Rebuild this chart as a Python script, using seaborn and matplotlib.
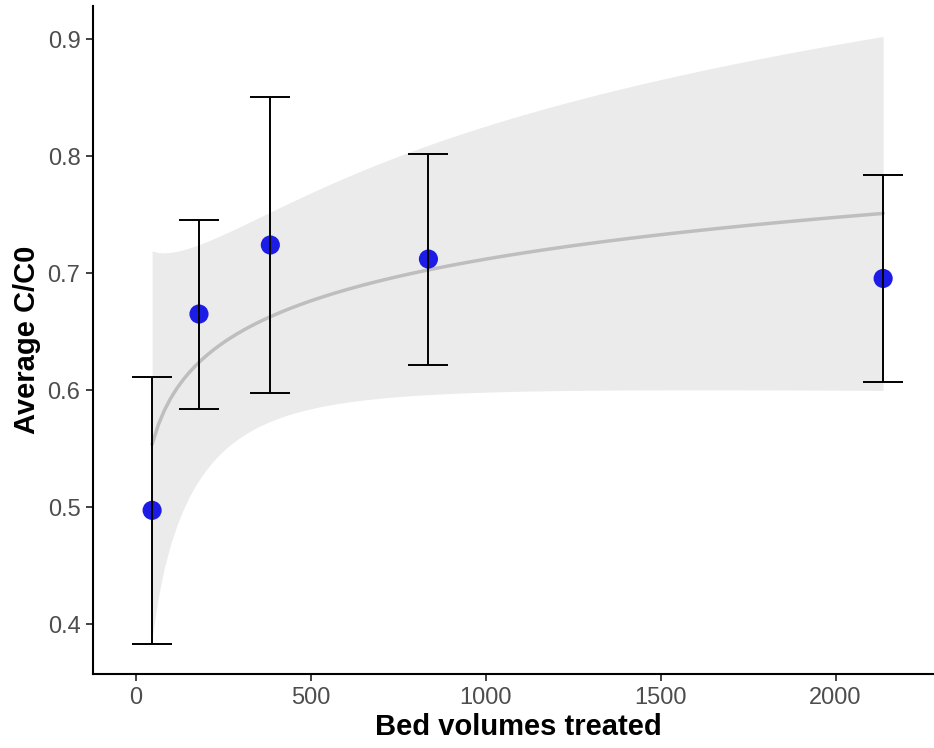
import numpy as np
import pandas as pd
import matplotlib
matplotlib.use("Agg")
import matplotlib.pyplot as plt
import seaborn as sns

# Mean C/C0 per sampling point and its standard deviation
bed_volumes = [46, 180, 384, 836, 2136]
avg_c_c0 = [0.4974, 0.6652, 0.7242, 0.7122, 0.6956]
sd_c_c0 = [0.1142, 0.0808, 0.1262, 0.0902, 0.0886]

x_ticks = [0, 500, 1000, 1500, 2000]
y_ticks = [0.4, 0.5, 0.6, 0.7, 0.8, 0.9]

df = pd.DataFrame({"bv": bed_volumes, "cc0": avg_c_c0, "sd": sd_c_c0})

# Linear model y ~ log(x) with a 95% confidence band
lx = np.log(df["bv"].to_numpy())
y = df["cc0"].to_numpy()
n = len(y)
lx_mean = lx.mean()
sxx = ((lx - lx_mean) ** 2).sum()
slope = ((lx - lx_mean) * (y - y.mean())).sum() / sxx
intercept = y.mean() - slope * lx_mean
resid = y - (intercept + slope * lx)
s = np.sqrt((resid ** 2).sum() / (n - 2))
T_975_DF3 = 3.182446  # Student t quantile, 3 degrees of freedom

grid = np.linspace(df["bv"].min(), df["bv"].max(), 120)
lg = np.log(grid)
fit = intercept + slope * lg
se = s * np.sqrt(1.0 / n + (lg - lx_mean) ** 2 / sxx)
fit_df = pd.DataFrame({"bv": grid, "fit": fit,
                       "lo": fit - T_975_DF3 * se, "hi": fit + T_975_DF3 * se})

sns.set_theme(style="ticks")
plt.rcParams["font.family"] = ["Liberation Sans", "DejaVu Sans"]

fig = plt.figure(figsize=(9.34, 7.48), dpi=100)
ax = fig.add_axes([93 / 934, 74 / 748, 851 / 934, 668 / 748])

ax.fill_between(fit_df["bv"], fit_df["lo"], fit_df["hi"],
                color="#ebebeb", linewidth=0, zorder=1)
sns.lineplot(data=fit_df, x="bv", y="fit", ax=ax, color="#bebebe",
             linewidth=2.5, zorder=2)
sns.scatterplot(data=df, x="bv", y="cc0", ax=ax, color="#1c1ce6",
                s=190, edgecolor="none", zorder=3)
ax.errorbar(df["bv"], df["cc0"], yerr=df["sd"], fmt="none",
            ecolor="black", elinewidth=1.4, capsize=14.5, capthick=1.4, zorder=4)

ax.set_xlim(-123, 2310)
ax.set_ylim(0.3575, 0.9285)
ax.set_xticks(x_ticks)
ax.set_yticks(y_ticks)
ax.set_yticklabels([f"{v:.1f}" for v in y_ticks])

for side in ("top", "right"):
    ax.spines[side].set_visible(False)
for side in ("left", "bottom"):
    ax.spines[side].set_color("black")
    ax.spines[side].set_linewidth(1.5)

ax.tick_params(axis="both", colors="#333333", labelcolor="#4d4d4d",
               labelsize=17, length=5, width=1.3, pad=4)

ax.set_xlabel("Bed volumes treated", fontsize=21, fontweight="bold",
              color="black", labelpad=3)
ax.set_ylabel("Average C/C0", fontsize=21, fontweight="bold",
              color="black", labelpad=4.5)

fig.savefig("out.png", dpi=100)
